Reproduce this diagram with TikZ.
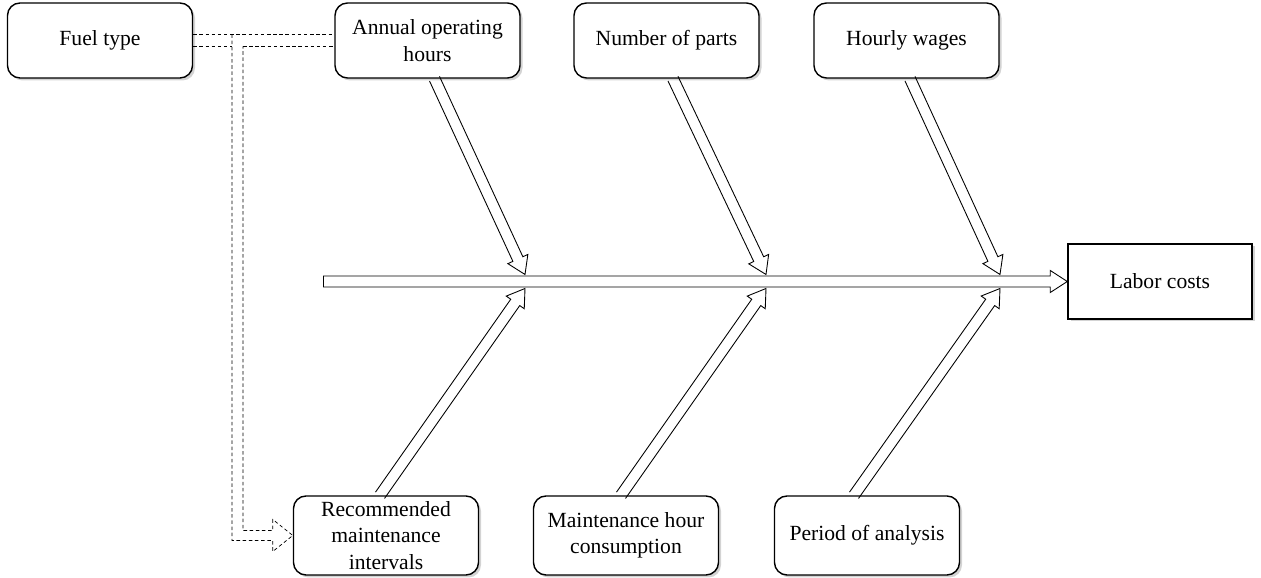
\documentclass[tikz,border=0pt]{standalone}
\usepackage{fontspec}
\setmainfont{Liberation Serif}
\usetikzlibrary{calc,shadows}

% hollow block arrow from #2 to #3, open at its tail
\newcommand{\blockarrow}[3][]{%
	\coordinate (ba) at ($(#3)!0.34cm!(#2)$);
	\draw[rib,#1] ($(#2)!0.11cm!90:(#3)$) -- ($(ba)!0.11cm!90:(#3)$)
		-- ($(ba)!0.22cm!90:(#3)$) -- (#3) -- ($(ba)!0.22cm!-90:(#3)$)
		-- ($(ba)!0.11cm!-90:(#3)$) -- ($(#2)!0.11cm!-90:(#3)$);
}

\begin{document}
\begin{tikzpicture}[
	factor/.style={shape=rectangle,draw=black,fill=white,rounded corners=0.25cm,line width=0.8pt,
		drop shadow={shadow xshift=0.05cm,shadow yshift=-0.05cm,opacity=0.35},
		minimum width=3.7cm,minimum height=1.5cm,inner ysep=0pt,align=center,
		font=\fontsize{12.3}{15}\selectfont},
	effect/.style={factor,rounded corners=0pt},
	rib/.style={draw=black,line width=0.5pt,line join=miter},
	link/.style={draw=black,line width=0.4pt,dash pattern=on 2pt off 1.5pt}]

	\useasboundingbox (0,0) rectangle (25.22,11.56);

	\node[factor] (fuel)     at (2.00, 10.75)  {Fuel type};
	\node[factor] (annual)   at (8.55, 10.75)  {Annual operating\\hours};
	\node[factor] (parts)    at (13.33, 10.75) {Number of parts};
	\node[factor] (wages)    at (18.13, 10.75) {Hourly wages};
	\node[factor,minimum height=1.58cm] (interval) at (7.72, 0.85)  {Recommended\\maintenance\\intervals};
	\node[factor,minimum height=1.58cm] (hours)    at (12.52, 0.85) {Maintenance hour\\consumption};
	\node[factor,minimum height=1.58cm] (period)   at (17.34, 0.85) {Period of analysis};
	\node[effect,minimum width=3.68cm] (labor)     at (23.20, 5.93) {Labor costs};

	\coordinate (tail)  at (6.46, 5.93);
	\coordinate (split) at (4.75, 10.75);
	\coordinate (head)  at ([xshift=-0.4cm]interval.west);
	\coordinate (t1) at (10.50, 6.07);
	\coordinate (b1) at (10.50, 5.79);
	\coordinate (t2) at (15.32, 6.07);
	\coordinate (b2) at (15.32, 5.79);
	\coordinate (t3) at (20.00, 6.07);
	\coordinate (b3) at (20.00, 5.79);
	\coordinate (s1) at ([xshift=0.14cm]annual.south);
	\coordinate (s2) at ([xshift=0.13cm]parts.south);
	\coordinate (s3) at ([xshift=0.07cm]wages.south);
	\coordinate (s4) at ([xshift=-0.12cm]interval.north);
	\coordinate (s5) at ([xshift=-0.10cm]hours.north);
	\coordinate (s6) at ([xshift=-0.26cm]period.north);

	% spine
	\blockarrow{tail}{labor.west}
	\draw[rib] ([yshift=0.11cm]tail) -- ([yshift=-0.11cm]tail);

	% ribs
	\blockarrow{s1}{t1}
	\blockarrow{s2}{t2}
	\blockarrow{s3}{t3}
	\blockarrow{s4}{b1}
	\blockarrow{s5}{b2}
	\blockarrow{s6}{b3}

	% fuel type link
	\draw[link] ([yshift=0.12cm]fuel.east) -- ([yshift=0.12cm]annual.west);
	\draw[link] ([yshift=-0.12cm]fuel.east) -- ([xshift=-0.11cm,yshift=-0.12cm]split);
	\draw[link] ([xshift=0.11cm,yshift=-0.12cm]split) -- ([yshift=-0.12cm]annual.west);
	\draw[link] ([xshift=-0.11cm,yshift=0.12cm]split) |- ([yshift=-0.10cm]head)
		-- ([yshift=-0.32cm]head) -- (interval.west) -- ([yshift=0.32cm]head)
		-- ([yshift=0.10cm]head) -| ([xshift=0.11cm,yshift=-0.12cm]split);
\end{tikzpicture}
\end{document}
